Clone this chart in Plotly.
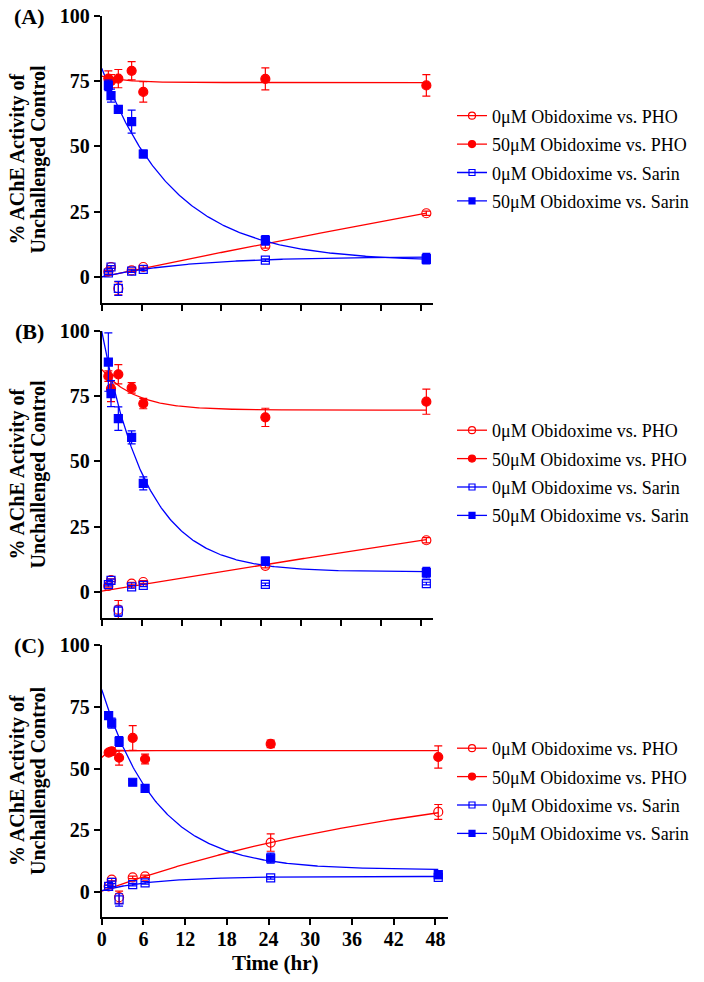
import numpy as np
import plotly.graph_objects as go

W, H = 704, 982

# ---------------- data ----------------
time_A = [1.0, 1.4, 2.5, 4.5, 6.25, 24.6, 48.8]
time_B = [1.0, 1.4, 2.5, 4.5, 6.25, 24.6, 48.8]
time_C = [1.0, 1.44, 2.5, 4.46, 6.24, 24.3, 48.4]

pho0_A = [2.0, 3.8, -4.4, 2.5, 3.8, 11.8, 24.4]
pho0_A_err = [0.5, 0.5, 2.5, 0.5, 0.5, 0.8, 0.8]
pho50_A = [76.0, 75.0, 76.0, 79.0, 70.9, 75.9, 73.4]
pho50_A_err = [3.0, 2.5, 3.5, 3.5, 3.9, 4.2, 4.1]
sarin0_A = [1.5, 3.8, -4.4, 2.2, 2.9, 6.4, 6.7]
sarin0_A_err = [0.5, 0.5, 2.7, 0.5, 0.5, 0.5, 0.8]
sarin50_A = [73.4, 69.5, 64.2, 59.5, 47.1, 14.0, 7.0]
sarin50_A_err = [2.0, 2.5, 0.8, 4.4, 1.5, 1.8, 2.0]

pho0_B = [2.3, 4.5, -6.8, 3.2, 3.8, 10.0, 19.8]
pho0_B_err = [0.5, 0.5, 3.5, 0.5, 0.5, 0.8, 1.0]
pho50_B = [82.7, 77.9, 83.4, 78.2, 72.2, 66.9, 72.9]
pho50_B_err = [2.0, 5.0, 3.7, 2.0, 2.0, 3.5, 4.8]
sarin0_B = [2.8, 4.4, -7.4, 1.9, 2.5, 2.9, 3.2]
sarin0_B_err = [0.5, 0.5, 2.0, 0.5, 0.5, 0.5, 0.5]
sarin50_B = [88.1, 76.0, 66.4, 59.2, 41.6, 11.8, 7.4]
sarin50_B_err = [11.2, 5.0, 4.5, 2.5, 2.5, 1.5, 2.0]

pho0_C = [2.4, 5.1, -2.0, 6.0, 6.4, 20.1, 32.5]
pho0_C_err = [0.5, 0.5, 2.5, 0.5, 0.5, 3.5, 3.0]
pho50_C = [56.5, 57.0, 54.4, 62.4, 53.9, 60.0, 54.7]
pho50_C_err = [1.0, 1.5, 3.0, 5.0, 2.0, 1.5, 4.5]
sarin0_C = [2.4, 4.0, -3.1, 3.1, 3.8, 5.8, 6.0]
sarin0_C_err = [0.5, 0.5, 2.5, 0.5, 0.5, 0.5, 0.5]
sarin50_C = [71.4, 68.4, 61.0, 44.5, 42.0, 13.8, 7.1]
sarin50_C_err = [1.5, 2.0, 2.0, 0.8, 0.8, 2.0, 1.5]

# fitted one-phase curves: (Y0, plateau, K) ; None = no fitted curve
fit_A = {"pho0": (0.0, 200.0, 0.00267), "pho50": (77.0, 74.5, 0.3),
         "sarin0": (0.0, 7.8, 0.075), "sarin50": (80.0, 6.0, 0.092)}
fit_B = {"pho0": (0.3, 200.0, 0.00213), "pho50": (85.3, 69.7, 0.2),
         "sarin0": None, "sarin50": (100.0, 7.7, 0.148)}
fit_C = {"pho0": (0.5, 51.7, 0.0199), "pho50": (54.5, 57.3, 1.2),
         "sarin0": (0.7, 6.4, 0.126), "sarin50": (82.0, 9.1, 0.125)}

series_names = {
    "pho0": "0μM Obidoxime vs. PHO",
    "pho50": "50μM Obidoxime vs. PHO",
    "sarin0": "0μM Obidoxime vs. Sarin",
    "sarin50": "50μM Obidoxime vs. Sarin",
}
x_ticks = [0, 6, 12, 18, 24, 30, 36, 42, 48]
y_ticks = [0, 25, 50, 75, 100]
panel_labels = ["(A)", "(B)", "(C)"]
y_title_lines = ["% AChE Activity of", "Unchallenged Control"]
x_title = "Time (hr)"

# ---------------- styling ----------------
RED = "#FF0000"
BLUE = "#0000FF"
FONT = "Liberation Serif"
styles = {
    "pho0": dict(color=RED, symbol="circle-open", size=9),
    "pho50": dict(color=RED, symbol="circle", size=9),
    "sarin0": dict(color=BLUE, symbol="square-open", size=8),
    "sarin50": dict(color=BLUE, symbol="square", size=8),
}

panels = [
    (time_A, {"pho0": (pho0_A, pho0_A_err), "pho50": (pho50_A, pho50_A_err),
              "sarin0": (sarin0_A, sarin0_A_err), "sarin50": (sarin50_A, sarin50_A_err)}, fit_A),
    (time_B, {"pho0": (pho0_B, pho0_B_err), "pho50": (pho50_B, pho50_B_err),
              "sarin0": (sarin0_B, sarin0_B_err), "sarin50": (sarin50_B, sarin50_B_err)}, fit_B),
    (time_C, {"pho0": (pho0_C, pho0_C_err), "pho50": (pho50_C, pho50_C_err),
              "sarin0": (sarin0_C, sarin0_C_err), "sarin50": (sarin50_C, sarin50_C_err)}, fit_C),
]

def px_x(x):
    return x / W

def px_y(y):
    return 1 - y / H

# pixel layout of the three panels (left, right, top, bottom)
boxes = [(101.7, 433.0, 16.0, 303.0), (101.7, 433.0, 331.0, 618.0), (101.7, 448.0, 645.0, 917.0)]
legend_centers = [158.5, 473.0, 791.0]

fig = go.Figure()
order = ["pho0", "pho50", "sarin0", "sarin50"]
for i, (t, data, fits) in enumerate(panels):
    xa = "x" if i == 0 else f"x{i+1}"
    ya = "y" if i == 0 else f"y{i+1}"
    lg = "legend" if i == 0 else f"legend{i+1}"
    tt = np.linspace(0, max(t), 300)
    for key in order:
        st = styles[key]
        fp = fits[key]
        if fp is not None:
            y0, pl, k = fp
            fig.add_trace(go.Scatter(x=tt, y=pl + (y0 - pl) * np.exp(-k * tt), mode="lines",
                                     line=dict(color=st["color"], width=1.3),
                                     xaxis=xa, yaxis=ya, showlegend=False, hoverinfo="skip"))
    for key in order:
        st = styles[key]
        vals, errs = data[key]
        fig.add_trace(go.Scatter(
            x=t, y=vals, mode="markers", xaxis=xa, yaxis=ya, showlegend=False,
            marker=dict(color=st["color"], symbol=st["symbol"], size=st["size"],
                        line=dict(color=st["color"], width=1.2)),
            error_y=dict(type="data", array=errs, visible=True, color=st["color"],
                         thickness=1.2, width=4)))
    for key in order:
        st = styles[key]
        fig.add_trace(go.Scatter(
            x=[None], y=[None], mode="lines+markers", name=series_names[key],
            xaxis=xa, yaxis=ya, legend=lg, legendgroup=f"{i}{key}",
            line=dict(color=st["color"], width=1.3),
            marker=dict(color=st["color"], symbol=st["symbol"], size=st["size"] - 2,
                        line=dict(color=st["color"], width=1.2))))

layout = dict(template="none", width=W, height=H, margin=dict(l=0, r=0, t=0, b=0, pad=0),
              paper_bgcolor="white", plot_bgcolor="white", showlegend=True,
              font=dict(family=FONT, color="black"))
axis_common = dict(showline=True, linecolor="black", linewidth=2, ticks="outside",
                   ticklen=6, tickwidth=2, tickcolor="black", showgrid=False, automargin=False,
                   zeroline=False, tickfont=dict(family=FONT, size=20, color="black", weight="bold"))
annotations = []
for i, (l, r, tp, bt) in enumerate(boxes):
    xn = "xaxis" if i == 0 else f"xaxis{i+1}"
    yn = "yaxis" if i == 0 else f"yaxis{i+1}"
    ya = "y" if i == 0 else f"y{i+1}"
    xa = "x" if i == 0 else f"x{i+1}"
    layout[xn] = dict(axis_common, domain=[px_x(l), px_x(r)], range=[0, 49.8],
                      tickvals=x_ticks, showticklabels=(i == 2), anchor=ya,
                      ticklabelstandoff=-3)
    layout[yn] = dict(axis_common, domain=[px_y(bt), px_y(tp)], range=[-10, 100],
                      tickvals=y_ticks, anchor=xa)
    lg = "legend" if i == 0 else f"legend{i+1}"
    layout[lg] = dict(x=px_x(452), xanchor="left", y=px_y(legend_centers[i]), yanchor="middle",
                      bgcolor="rgba(0,0,0,0)", font=dict(family=FONT, size=18, color="black"),
                      traceorder="grouped", tracegroupgap=2, itemwidth=30, borderwidth=0)
    annotations.append(dict(text=f"<b>{panel_labels[i]}</b>", x=px_x(30), y=px_y(tp), xref="paper",
                            yref="paper", showarrow=False, xanchor="center", yanchor="middle",
                            font=dict(family=FONT, size=22, color="black")))
    for j, line_txt in enumerate(y_title_lines):
        annotations.append(dict(text=f"<b>{line_txt}</b>", x=px_x(17 + 21 * j), y=px_y((tp + bt) / 2),
                                xref="paper", yref="paper", showarrow=False, textangle=-90,
                                xanchor="center", yanchor="middle",
                                font=dict(family=FONT, size=20, color="black")))
annotations.append(dict(text=f"<b>{x_title}</b>", x=px_x(275), y=px_y(963), xref="paper",
                        yref="paper", showarrow=False, xanchor="center", yanchor="middle",
                        font=dict(family=FONT, size=21, color="black")))
layout["annotations"] = annotations
fig.update_layout(**layout)
fig.write_html("out.html", config={"displayModeBar": False},
               post_script="document.body.style.margin='0';document.body.style.overflow='hidden';")
